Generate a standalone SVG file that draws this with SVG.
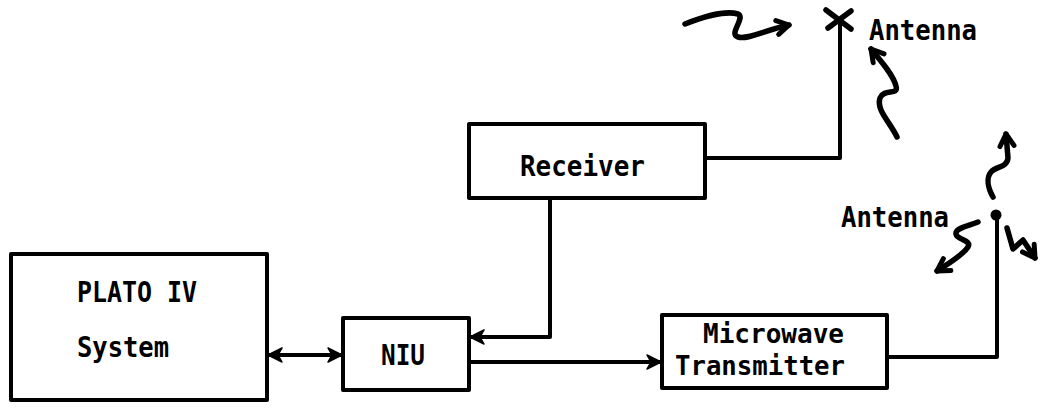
<svg xmlns="http://www.w3.org/2000/svg" width="1051" height="413" viewBox="0 0 1051 413">
<defs>
<style>
.box{fill:#fff;stroke:#000;stroke-width:4;stroke-linejoin:round}
.lbl{font-family:"DejaVu Sans Mono","Liberation Mono",monospace;font-weight:bold;font-size:29px;fill:#000}
.sm{font-size:26px}
.wire{fill:none;stroke:#000;stroke-width:4;stroke-linejoin:round;stroke-linecap:round}
.wave{fill:none;stroke:#000;stroke-width:5.5;stroke-linejoin:round;stroke-linecap:round}
</style>
<marker id="ah" markerUnits="userSpaceOnUse" viewBox="-15 -9 17 18" markerWidth="17" markerHeight="18" refX="0" refY="0" orient="auto-start-reverse">
<path d="M1,0 L-13,-7 L-9,0 L-13,7 Z" fill="#000" stroke="#000" stroke-width="1.5" stroke-linejoin="round"/>
</marker>
<marker id="wh" markerUnits="userSpaceOnUse" viewBox="-16 -11 19 22" markerWidth="19" markerHeight="22" refX="0" refY="0" orient="auto">
<path d="M-12,-7 L0,0 L-12,7" fill="none" stroke="#000" stroke-width="5" stroke-linejoin="round" stroke-linecap="round"/>
</marker>
</defs>

<g id="connectors">
<path class="wire" d="M269,355 H341" marker-start="url(#ah)" marker-end="url(#ah)"/>
<path class="wire" d="M550,198 V337 H471" marker-end="url(#ah)"/>
<path class="wire" d="M469,362 H660" marker-end="url(#ah)"/>
<path class="wire" d="M705,158 H840 V20"/>
<path class="wire" d="M887,357 H997 V215"/>
</g>

<g id="plato">
<rect class="box" x="11" y="254" width="256" height="146"/>
<text class="lbl" x="77" y="302" textLength="120" lengthAdjust="spacingAndGlyphs">PLATO IV</text>
<text class="lbl" x="77" y="357" textLength="92" lengthAdjust="spacingAndGlyphs">System</text>
</g>

<g id="niu">
<rect class="box" x="343" y="318" width="126" height="72"/>
<text class="lbl" x="381" y="365" textLength="44" lengthAdjust="spacingAndGlyphs">NIU</text>
</g>

<g id="receiver">
<rect class="box" x="469" y="124" width="236" height="74"/>
<text class="lbl" x="520" y="176" textLength="125" lengthAdjust="spacingAndGlyphs">Receiver</text>
</g>

<g id="transmitter">
<rect class="box" x="662" y="315" width="225" height="73"/>
<text class="lbl sm" x="703" y="343" textLength="141" lengthAdjust="spacingAndGlyphs">Microwave</text>
<text class="lbl sm" x="675" y="375" textLength="170" lengthAdjust="spacingAndGlyphs">Transmitter</text>
</g>

<g id="antenna-receive">
<path class="wave" d="M826,10 L851,29 M851,11 L828,28"/>
<text class="lbl" x="869" y="40" textLength="108" lengthAdjust="spacingAndGlyphs">Antenna</text>
<path class="wave" d="M685,24 C700,18 725,10 738,14 C746,18 728,34 738,37 C748,40 765,30 789,25" marker-end="url(#wh)"/>
<path class="wave" d="M897,137 C890,122 876,110 880,98 C884,88 899,96 896,86 C893,74 880,60 871,49" marker-end="url(#wh)"/>
</g>

<g id="antenna-transmit">
<circle cx="996" cy="215" r="5.5" fill="#000"/>
<text class="lbl" x="841" y="227" textLength="108" lengthAdjust="spacingAndGlyphs">Antenna</text>
<path class="wave" d="M993,197 C988,188 986,178 991,172 C996,166 1007,168 1008,158 L1006,134" marker-end="url(#wh)"/>
<path class="wave" d="M978,222 C968,226 955,228 956,234 C957,240 972,240 968,247 C963,255 948,264 937,271" marker-end="url(#wh)"/>
<path class="wave" d="M1007,228 L1013,249 L1023,240 L1035,258" marker-end="url(#wh)"/>
</g>
</svg>
